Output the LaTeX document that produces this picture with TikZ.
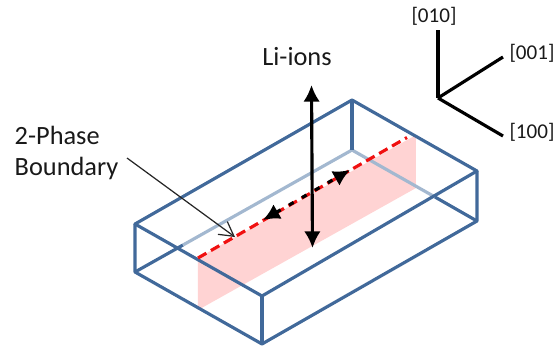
\documentclass[tikz,border=0pt]{standalone}
\usepackage{fontspec}
\setmainfont{Carlito}
\usetikzlibrary{arrows.meta}

\definecolor{boxblue}{HTML}{41699A}
\definecolor{hiddenblue}{HTML}{A3B8D0}
\definecolor{phasepink}{HTML}{FFD3D3}
\definecolor{phasered}{HTML}{F01010}

\tikzset{
  boxedge/.style={draw=boxblue,line width=1.8pt,line join=round},
  hiddenedge/.style={draw=hiddenblue,line width=1.8pt},
  ionarrow/.style={{Latex[length=9.5pt,width=9.5pt]}-{Latex[length=9.5pt,width=9.5pt]},line width=1.8pt},
  axisline/.style={line width=1.8pt},
  axislabel/.style={font=\fontsize{12}{14}\selectfont,text=black!90},
  biglabel/.style={font=\fontsize{15}{17}\selectfont,text=black!90}
}

\begin{document}
\begin{tikzpicture}[x=0.02cm,y=-0.02cm]
\useasboundingbox (0,0) rectangle (556,349);

% box corners
\coordinate (TL) at (135,224);
\coordinate (TB) at (352,100);
\coordinate (TR) at (477,171);
\coordinate (TF) at (262,296);
\coordinate (BL) at (135,272);
\coordinate (BB) at (352,150);
\coordinate (BR) at (477,221);
\coordinate (BF) at (262,344);

% plane corners
\coordinate (PA) at (198,258);
\coordinate (PB) at (416,135);
\coordinate (PC) at (416,188);
\coordinate (PD) at (198,310);
\fill[phasepink] (PA) -- (PB) -- (PC) -- (PD) -- cycle;

% hidden edges
\coordinate (HL) at (183,245);
\coordinate (HR) at (435,197);
\draw[boxedge] (BL) -- (HL);
\draw[boxedge] (HR) -- (BR);
\draw[hiddenedge] (HL) -- (BB) -- (HR);
\draw[boxedge] (TB) -- (BB);

% visible edges
\draw[boxedge] (TL) -- (TB) -- (TR) -- (TF) -- cycle;
\draw[boxedge] (TL) -- (BL) -- (BF) -- (BR) -- (TR);
\draw[boxedge] (TF) -- (BF);

% boundary
\coordinate (DA) at (263,220);
\coordinate (DB) at (350,170);
\coordinate (DE) at (407,137.5);
\draw[draw=phasered,line width=1.8pt,dash pattern=on 5.5pt off 3pt] (PA) -- (DE);
\draw[ionarrow,dash pattern=on 3pt off 5.5pt] (DA) -- (DB);

% Li-ions
\node[biglabel] (ions) at (297,57) {Li-ions};
\coordinate (VA) at (311.5,85);
\coordinate (VB) at (312.5,248);
\draw[ionarrow] (VA) -- (VB);

% label with pointer
\node[biglabel,align=left,anchor=west] (phase) at (8.5,153) {2-Phase\\[1pt]Boundary};
\coordinate (PS) at (127,158);
\coordinate (PE) at (235,237);
\draw[-{Straight Barb[length=8pt,width=9pt]},line width=0.7pt,black!85] (PS) -- (PE);

% axes
\coordinate (O) at (438,98);
\node[axislabel] (y) at (434,16) {[010]};
\node[axislabel] (z) at (532,53) {[001]};
\node[axislabel] (x) at (532,132) {[100]};
\coordinate (YE) at (438,30);
\coordinate (ZE) at (503,57);
\coordinate (XE) at (503,136);
\draw[axisline] (YE) -- (O);
\draw[axisline] (O) -- (ZE);
\draw[axisline] (O) -- (XE);
\end{tikzpicture}
\end{document}
